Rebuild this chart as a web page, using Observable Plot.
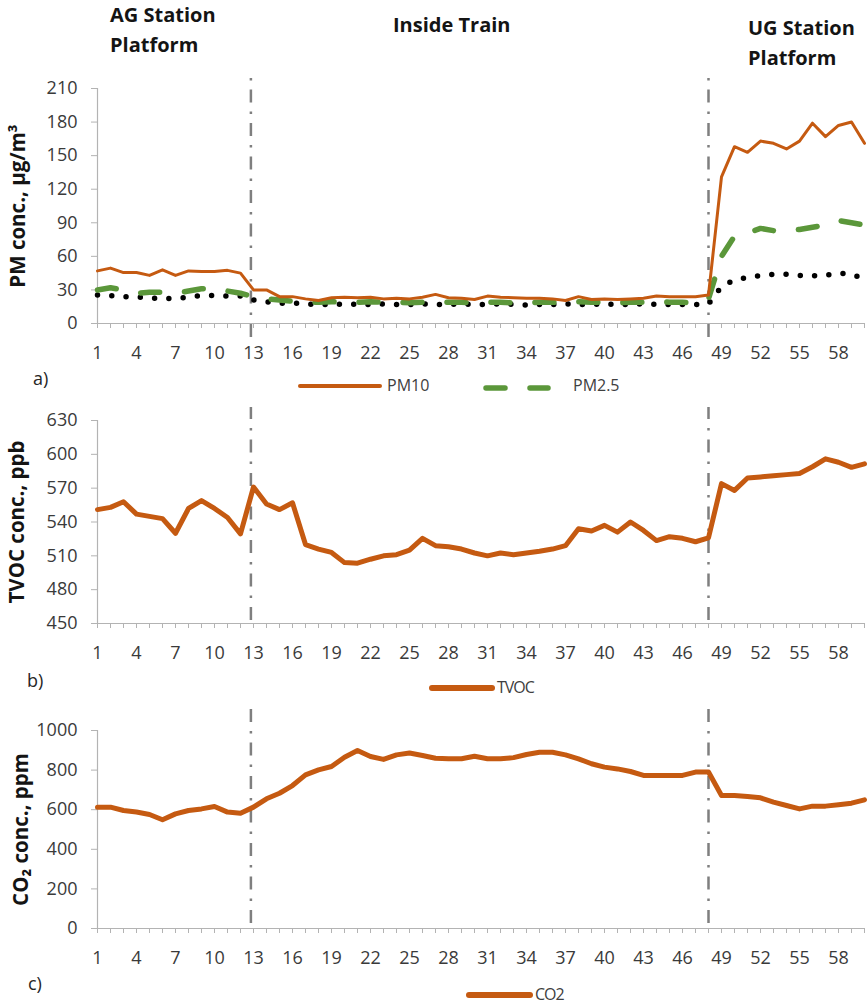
<!DOCTYPE html>
<html>
<head>
<meta charset="utf-8">
<script src="https://cdn.jsdelivr.net/npm/d3@7"></script>
<script src="https://cdn.jsdelivr.net/npm/@observablehq/plot@0.6"></script>
<style>
  body { margin: 0; background: #fff; font-family: "Open Sans", sans-serif; }
  #chart { position: relative; width: 868px; height: 1005px; overflow: hidden; background: #fff; }
  .abs { position: absolute; white-space: nowrap; }
  .sect { font-weight: bold; font-size: 20px; line-height: 30px; color: #141414; }
  .plabel { font-size: 18px; line-height: 24px; color: #262626; }
  .leg { font-size: 16px; line-height: 20px; color: #404040; }
</style>
</head>
<body>
<div id="chart"></div>
<script>
// ---------------- data ----------------
const samples = d3.range(1, 61);
const pm10 = [47, 49.5, 45.5, 45.5, 43, 48, 43, 47, 46.5, 46.5,
              47.5, 45, 30, 30, 24, 24, 22, 20.5, 23, 23.5,
              23, 23.5, 22, 22.5, 22, 23.5, 26, 23, 22.5, 21.5,
              24.5, 23.5, 23, 22.5, 22.5, 22, 20.5, 24, 21.5, 22,
              21.5, 22, 22.5, 24.5, 24, 24, 24, 25.5, 131, 158,
              153, 163, 161, 156, 163, 179, 167, 177, 180, 161];
const pm25 = [30, 32, 30, 27, 28, 28, 27, 29, 31, 31,
              29, 27, 24, 22, 21, 20, 19, 19, 19.5, 19,
              19, 19.5, 19, 19, 18.5, 19, 19.5, 19, 19, 18.5,
              19, 19, 18.5, 18.5, 19, 19, 18.5, 19.5, 19, 19,
              18.5, 19, 19, 19.5, 19, 19, 18.5, 22, 60, 78,
              81, 85, 83, 83, 84, 86, 88, 92, 90, 88];
const pm1 = [25.5, 25, 24, 23.5, 23, 22, 22.5, 23.5, 25, 25,
             24.5, 24.5, 21, 19.5, 18, 18.5, 17.5, 17, 17, 17.5,
             17, 17, 17.5, 17, 17, 17.5, 17, 17, 17.5, 17,
             17, 17.5, 17, 16.5, 17, 17, 17.5, 17, 17, 17.5,
             17, 17, 17.5, 17, 17, 17, 17, 17.5, 33, 39,
             41, 43, 44, 44, 43, 42.5, 43, 45, 44, 40];
const tvoc = [551, 553, 558, 547, 545, 543, 530, 552, 559, 552,
              544, 529.5, 571, 556, 551, 557, 520, 516, 513, 504,
              503.5, 507, 510, 511, 515, 525.5, 519, 518, 516, 512.5,
              510, 512.5, 511, 512.5, 514, 516, 519, 534, 532, 537,
              531, 540, 532.5, 523.5, 527, 525.5, 522.5, 526, 574, 568,
              579, 580, 581, 582, 583, 589, 596, 593, 588.5, 591.5];
const co2 = [613, 613, 596, 588, 576, 549, 579, 596, 604, 616,
             588, 582, 613, 655, 683, 722, 776, 801, 818, 865,
             899, 869, 854, 877, 886, 874, 860, 857, 857, 870,
             857, 857, 863, 879, 890, 890, 877, 857, 832, 815,
             806, 793, 773, 773, 773, 773, 790, 790, 672, 672,
             667, 660, 638, 621, 604, 618, 618, 625, 633, 650];
const xTickLabels = [1, 4, 7, 10, 13, 16, 19, 22, 25, 28, 31, 34, 37, 40, 43, 46, 49, 52, 55, 58];
const pmTicks = [0, 30, 60, 90, 120, 150, 180, 210];
const tvocTicks = [450, 480, 510, 540, 570, 600, 630];
const co2Ticks = [0, 200, 400, 600, 800, 1000];
const boundaries = [12.8, 48];
const sectionTitles = ["AG Station\nPlatform", "Inside Train", "UG Station\nPlatform"];
const panelLetters = ["a)", "b)", "c)"];
const yLabels = ["PM conc., µg/m³", "TVOC conc., ppb", "CO₂ conc., ppm"];
const seriesNames = ["PM10", "PM2.5", "TVOC", "CO2"];

// ---------------- helpers ----------------
const ORANGE = "#C55A11";
const GREEN = "#5B973A";
const AXIS = "#b3b3b3";
const TICKTXT = "#3a3a3a";

const rows = samples.map((s, i) => ({sample: s, pm10: pm10[i], pm25: pm25[i], pm1: pm1[i], tvoc: tvoc[i], co2: co2[i]}));
const chart = document.getElementById("chart");

function panel({top, height, marginTop, yDomain, yTicks, yLabel, labelDx, ruleExt, lines}) {
  const svg = Plot.plot({
    width: 868, height,
    marginLeft: 97, marginRight: 4, marginTop, marginBottom: 47,
    x: {domain: [1, 60], axis: null},
    y: {domain: yDomain, axis: null},
    style: {fontFamily: "Open Sans, sans-serif", fontSize: "18px", background: "transparent", overflow: "visible"},
    marks: [
      Plot.axisX(samples, {tickSize: 5, tickFormat: () => "", stroke: AXIS, label: null}),
      Plot.axisX(xTickLabels, {tickSize: 0, tickPadding: 23, fill: TICKTXT, tickFormat: d => String(d), label: null}),
      Plot.axisY(yTicks, {tickSize: 6, tickPadding: 14, stroke: AXIS, fill: TICKTXT, tickFormat: d => String(d), label: null}),
      Plot.ruleY([yDomain[0]], {stroke: AXIS, strokeWidth: 1.2}),
      Plot.ruleX([1], {stroke: AXIS, strokeWidth: 1.2}),
      Plot.ruleX(boundaries, {y1: ruleExt[0], y2: ruleExt[1], stroke: "#7f7f7f", strokeWidth: 2.5, strokeDasharray: "13,9,2.5,9"}),
      ...lines,
      Plot.text([yLabel], {frameAnchor: "left", textAnchor: "middle", lineAnchor: "middle", rotate: -90, dx: labelDx, fontWeight: "bold", fontSize: 20.5, fill: "#141414"})
    ]
  });
  svg.style.position = "absolute";
  svg.style.left = "0px";
  svg.style.top = top + "px";
  chart.appendChild(svg);
}

// Panel a: PM
panel({
  top: 0, height: 370, marginTop: 88,
  yDomain: [0, 210], yTicks: pmTicks, yLabel: yLabels[0], labelDx: -79,
  ruleExt: [-12.5, 220],
  lines: [
    Plot.line(rows, {x: "sample", y: "pm1", stroke: "#000", strokeWidth: 5.5, strokeLinecap: "round", strokeDasharray: "0,14.3"}),
    Plot.line(rows, {x: "sample", y: "pm25", stroke: GREEN, strokeWidth: 5.5, strokeLinecap: "round", strokeDasharray: "19,25"}),
    Plot.line(rows, {x: "sample", y: "pm10", stroke: ORANGE, strokeWidth: 3})
  ]
});

// Panel b: TVOC
panel({
  top: 400, height: 270, marginTop: 20,
  yDomain: [450, 630], yTicks: tvocTicks, yLabel: yLabels[1], labelDx: -80,
  ruleExt: [452.7, 641.5],
  lines: [
    Plot.line(rows, {x: "sample", y: "tvoc", stroke: ORANGE, strokeWidth: 5, strokeLinejoin: "round"})
  ]
});

// Panel c: CO2
panel({
  top: 700, height: 275, marginTop: 30,
  yDomain: [0, 1000], yTicks: co2Ticks, yLabel: yLabels[2], labelDx: -76,
  ruleExt: [25, 1111],
  lines: [
    Plot.line(rows, {x: "sample", y: "co2", stroke: ORANGE, strokeWidth: 5, strokeLinejoin: "round"})
  ]
});

// ---------------- text overlays ----------------
function addDiv(cls, html, left, top) {
  const d = document.createElement("div");
  d.className = "abs " + cls;
  d.innerHTML = html;
  d.style.left = left + "px";
  d.style.top = top + "px";
  chart.appendChild(d);
  return d;
}
addDiv("sect", sectionTitles[0].replace("\n", "<br>"), 110, 0);
addDiv("sect", sectionTitles[1], 393, 10);
addDiv("sect", sectionTitles[2].replace("\n", "<br>"), 748, 13);

addDiv("plabel", panelLetters[0], 33, 366);
addDiv("plabel", panelLetters[1], 27, 668);
addDiv("plabel", panelLetters[2], 28, 971);

function swatch(left, top, w, stroke, sw, dash) {
  const ns = "http://www.w3.org/2000/svg";
  const s = document.createElementNS(ns, "svg");
  s.setAttribute("width", w + 10);
  s.setAttribute("height", 14);
  s.style.position = "absolute";
  s.style.left = (left - 5) + "px";
  s.style.top = (top - 7) + "px";
  const l = document.createElementNS(ns, "line");
  l.setAttribute("x1", 5); l.setAttribute("x2", w + 5);
  l.setAttribute("y1", 7); l.setAttribute("y2", 7);
  l.setAttribute("stroke", stroke);
  l.setAttribute("stroke-width", sw);
  l.setAttribute("stroke-linecap", "round");
  if (dash) l.setAttribute("stroke-dasharray", dash);
  s.appendChild(l);
  chart.appendChild(s);
}
swatch(300, 386, 80, ORANGE, 4);
addDiv("leg", seriesNames[0], 387, 375);
swatch(486, 388, 62, GREEN, 5.5, "19,25");
addDiv("leg", seriesNames[1], 573, 375);
swatch(432, 688, 60, ORANGE, 6);
addDiv("leg", seriesNames[2], 497, 677).style.letterSpacing = "-1px";
swatch(469, 995, 61, ORANGE, 6);
addDiv("leg", seriesNames[3], 535, 984).style.letterSpacing = "-1px";
</script>
</body>
</html>
